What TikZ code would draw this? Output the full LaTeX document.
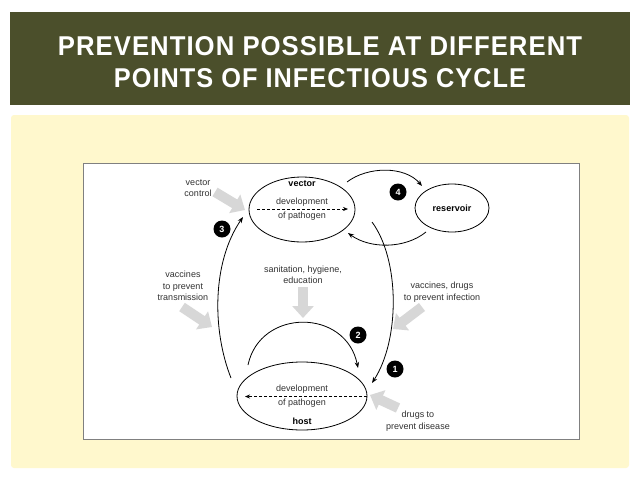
\documentclass[tikz,border=0pt]{standalone}
\usepackage{fontspec}
\setmainfont{Liberation Sans}
\usetikzlibrary{arrows.meta,shapes.geometric}
\definecolor{bandcol}{RGB}{75,79,43}
\definecolor{panelcol}{RGB}{255,248,205}
\definecolor{greyarr}{RGB}{215,215,215}
\definecolor{txtcol}{RGB}{50,50,50}
\begin{document}
\begin{tikzpicture}[x=1pt,y=-1pt,
  lbl/.style={inner sep=0pt, align=center, text=txtcol, font=\fontsize{9}{11.5}\selectfont},
  blbl/.style={inner sep=0pt, text=black, font=\fontsize{9}{11}\selectfont\bfseries},
  ell/.style={ellipse, draw=black, line width=0.8pt, inner sep=0pt},
  badge/.style={circle, fill=black, text=white, inner sep=0pt, minimum size=17pt, font=\fontsize{9}{9}\selectfont\bfseries},
  conn/.style={line width=0.8pt, -{Stealth[length=6pt,width=4.5pt]}},
  dconn/.style={line width=0.7pt, densely dashed, -{Stealth[length=5pt,width=4pt]}},
  garrow/.style={greyarr, line width=10pt, -{Triangle[length=12pt,width=21pt]}}
]
\useasboundingbox (0,0) rectangle (640,480);
\fill[white] (0,0) rectangle (640,480);
% title band
\fill[bandcol] (10,12) rectangle (630,105);
\node[inner sep=0pt, text=white] (t1) at (320,46.5) {\resizebox{524pt}{19pt}{\bfseries\addfontfeature{LetterSpace=4}PREVENTION POSSIBLE AT DIFFERENT}};
\node[inner sep=0pt, text=white] (t2) at (320,78.5) {\resizebox{412pt}{19pt}{\bfseries\addfontfeature{LetterSpace=4}POINTS OF INFECTIOUS CYCLE}};
% panel
\fill[panelcol, rounded corners=3pt] (11,115) rectangle (629,468);
\filldraw[fill=white, draw=black!50, line width=1pt] (83,163) rectangle (579,439);

% ellipses
\node[ell, minimum width=106pt, minimum height=65pt] (vector) at (302,209.5) {};
\node[ell, minimum width=74pt, minimum height=48pt] (reservoir) at (452,208) {};
\node[ell, minimum width=130pt, minimum height=68pt] (host) at (302,396) {};

\node[blbl] (vlab) at (302,184) {vector};
\node[lbl] (vdev1) at (302,202) {development};
\node[lbl] (vdev2) at (302,216.5) {of pathogen};
\node[blbl] (rlab) at (452,208.5) {reservoir};
\node[lbl] (hdev1) at (302,389) {development};
\node[lbl] (hdev2) at (302,403.5) {of pathogen};
\node[blbl] (hlab) at (302,421) {host};

% dashed arrows
\coordinate (vd1) at (257,209);
\coordinate (vd2) at (348,209);
\draw[dconn] (vd1) -- (vd2);
\coordinate (hd1) at (367,396.5);
\coordinate (hd2) at (245,396.5);
\draw[dconn] (hd1) -- (hd2);

% connector end points
\coordinate (a4s) at (347,182);
\coordinate (a4e) at (422,186);
\coordinate (rbs) at (426,232);
\coordinate (rbe) at (348,233);
\coordinate (a1s) at (372,222);
\coordinate (a1e) at (372,383);
\coordinate (a3s) at (231,378);
\coordinate (a3e) at (243,217);
\coordinate (a2s) at (248,365);
\coordinate (a2e) at (358,368);

\draw[conn] (a4s) .. controls (368,166) and (405,166) .. (a4e);
\draw[conn] (rbs) .. controls (405,249) and (370,249) .. (rbe);
\draw[conn] (a1s) .. controls (400,260) and (400,340) .. (a1e);
\draw[conn] (a3s) .. controls (212,330) and (212,262) .. (a3e);
\draw[conn] (a2s) .. controls (260,308) and (346,308) .. (a2e);

% badges
\node[badge] (b1) at (395,369) {1};
\node[badge] (b2) at (358,335) {2};
\node[badge] (b3) at (222,229) {3};
\node[badge] (b4) at (398,192) {4};

% labels
\node[lbl] (vc) at (198,188) {vector\\control};
\node[lbl] (san) at (303,275) {sanitation, hygiene,\\education};
\node[lbl] (vt) at (183,286) {vaccines\\to prevent\\transmission};
\node[lbl] (vdi) at (442,292) {vaccines, drugs\\to prevent infection};
\node[lbl] (dd) at (418,421) {drugs to\\prevent disease};

% grey block arrows
\coordinate (g1s) at (215,192); \coordinate (g1e) at (245,210);
\coordinate (g2s) at (303,287); \coordinate (g2e) at (303,318);
\coordinate (g3s) at (182,307); \coordinate (g3e) at (212,327);
\coordinate (g4s) at (422,307); \coordinate (g4e) at (393,329);
\coordinate (g5s) at (398,408); \coordinate (g5e) at (370,395);
\draw[garrow] (g1s) -- (g1e);
\draw[garrow] (g2s) -- (g2e);
\draw[garrow] (g3s) -- (g3e);
\draw[garrow] (g4s) -- (g4e);
\draw[garrow] (g5s) -- (g5e);
\end{tikzpicture}
\end{document}
